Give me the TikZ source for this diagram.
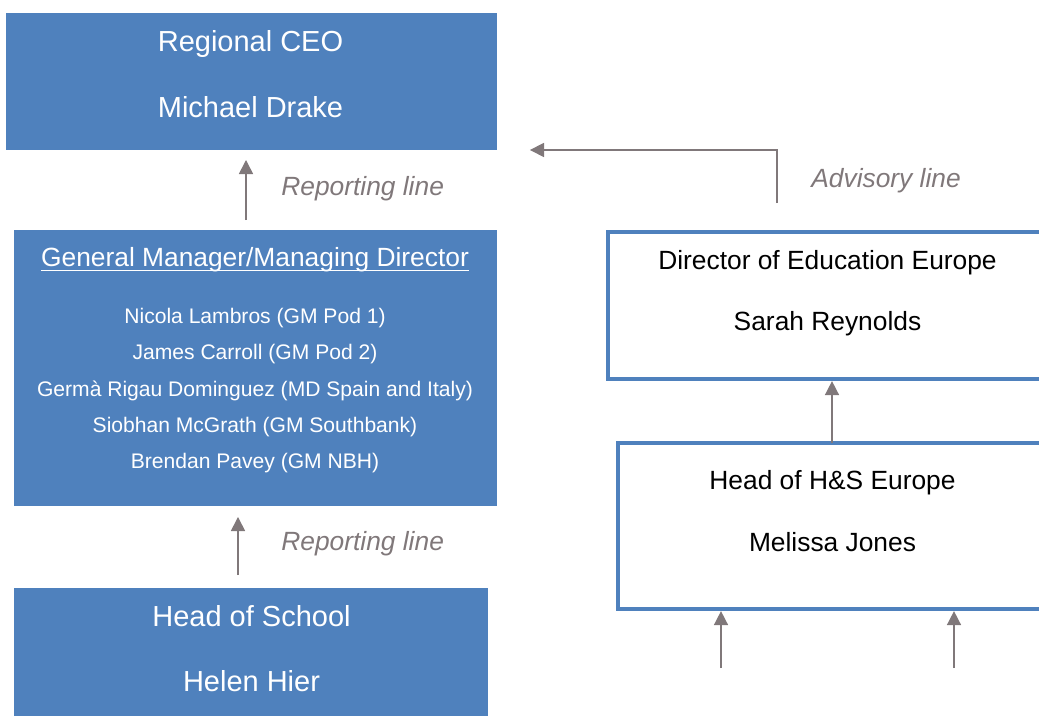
\documentclass[tikz,border=0pt]{standalone}
\usepackage{fontspec}
\setmainfont{Liberation Sans}
\usetikzlibrary{arrows.meta, positioning}
\definecolor{boxblue}{RGB}{79, 129, 189}
\definecolor{linegray}{RGB}{128, 120, 122}

\tikzset{
  bluebox/.style={fill=boxblue, draw=none, inner sep=0pt, outer sep=0pt},
  whitebox/.style={fill=white, draw=boxblue, line width=2.6pt, inner sep=0pt, outer sep=0pt},
  boxtext/.style={anchor=base, inner sep=0pt},
  linearrow/.style={draw=linegray, line width=0.9pt, -{Triangle[length=8pt, width=8pt]}},
  linelabel/.style={anchor=base west, inner sep=0pt, text=linegray, font=\fontsize{15}{18}\selectfont\itshape}
}

\begin{document}
\begin{tikzpicture}[x=0.02cm, y=-0.02cm]
  \clip (0,0) rectangle (1039,717);

  % Regional CEO
  \node[bluebox, minimum width=9.82cm, minimum height=2.74cm] (ceo) at (251.5, 81.5) {};
  \node[boxtext, text=white, font=\fontsize{16.5}{19}\selectfont] (ceotitle) at (250.5, 51) {Regional CEO};
  \node[boxtext, text=white, font=\fontsize{16.5}{19}\selectfont] (ceoname) at (250.5, 117) {Michael Drake};

  % General managers
  \node[bluebox, minimum width=9.66cm, minimum height=5.52cm] (gm) at (255.5, 368) {};
  \node[boxtext, text=white, font=\fontsize{15}{18}\selectfont] (gmtitle) at (255, 266) {General Manager/Managing Director};
  \draw[white, line width=0.8pt] ([yshift=-2.4pt]gmtitle.base west) -- ([yshift=-2.4pt]gmtitle.base east);
  \foreach \who/\y [count=\i] in {{Nicola Lambros (GM Pod 1)}/323, {James Carroll (GM Pod 2)}/359,
      {Germà Rigau Dominguez (MD Spain and Italy)}/396, {Siobhan McGrath (GM Southbank)}/432,
      {Brendan Pavey (GM NBH)}/468}
    \node[boxtext, text=white, font=\fontsize{12}{14}\selectfont] (gmname\i) at (255, \y) {\who};

  % Head of School
  \node[bluebox, minimum width=9.48cm, minimum height=2.56cm] (hos) at (251, 652) {};
  \node[boxtext, text=white, font=\fontsize{16.5}{19}\selectfont] (hostitle) at (251.5, 626) {Head of School};
  \node[boxtext, text=white, font=\fontsize{16.5}{19}\selectfont] (hosname) at (251.5, 691) {Helen Hier};

  % Director of Education
  \node[whitebox, minimum width=9.84cm, minimum height=2.94cm] (doe) at (854, 305.5) {};
  \node[boxtext, font=\fontsize{15}{18}\selectfont] (doetitle) at (827.5, 269) {Director of Education Europe};
  \node[boxtext, font=\fontsize{15}{18}\selectfont] (doename) at (827.5, 330) {Sarah Reynolds};

  % Head of H&S
  \node[whitebox, minimum width=9.64cm, minimum height=3.32cm] (hse) at (859, 526) {};
  \node[boxtext, font=\fontsize{15}{18}\selectfont] (hsetitle) at (832.5, 489) {Head of H\&S Europe};
  \node[boxtext, font=\fontsize{15}{18}\selectfont] (hsename) at (832.5, 551) {Melissa Jones};

  % Reporting lines
  \coordinate (rep1) at (246, 220);
  \coordinate (rep2) at (238, 575);
  \draw[linearrow, shorten >=0.2cm] (rep1) -- (ceo.south -| rep1);
  \draw[linearrow, shorten >=0.22cm] (rep2) -- (gm.south -| rep2);
  \node[linelabel] (replabel1) at (281, 195) {Reporting line};
  \node[linelabel] (replabel2) at (281, 550) {Reporting line};

  % Advisory line
  \coordinate (adv) at (777, 203);
  \draw[linearrow, shorten >=0.66cm] (adv) |- (ceo.south east);
  \node[linelabel] (advlabel) at (811, 187) {Advisory line};

  % H&S lines
  \coordinate (hs1) at (721, 668);
  \coordinate (hs2) at (954, 668);
  \draw[linearrow, shorten >=1.2pt] (hse.north -| 832, 0) -- (doe.south -| 832, 0);
  \draw[linearrow, shorten >=1.2pt] (hs1) -- (hse.south -| hs1);
  \draw[linearrow, shorten >=1.2pt] (hs2) -- (hse.south -| hs2);
\end{tikzpicture}
\end{document}
